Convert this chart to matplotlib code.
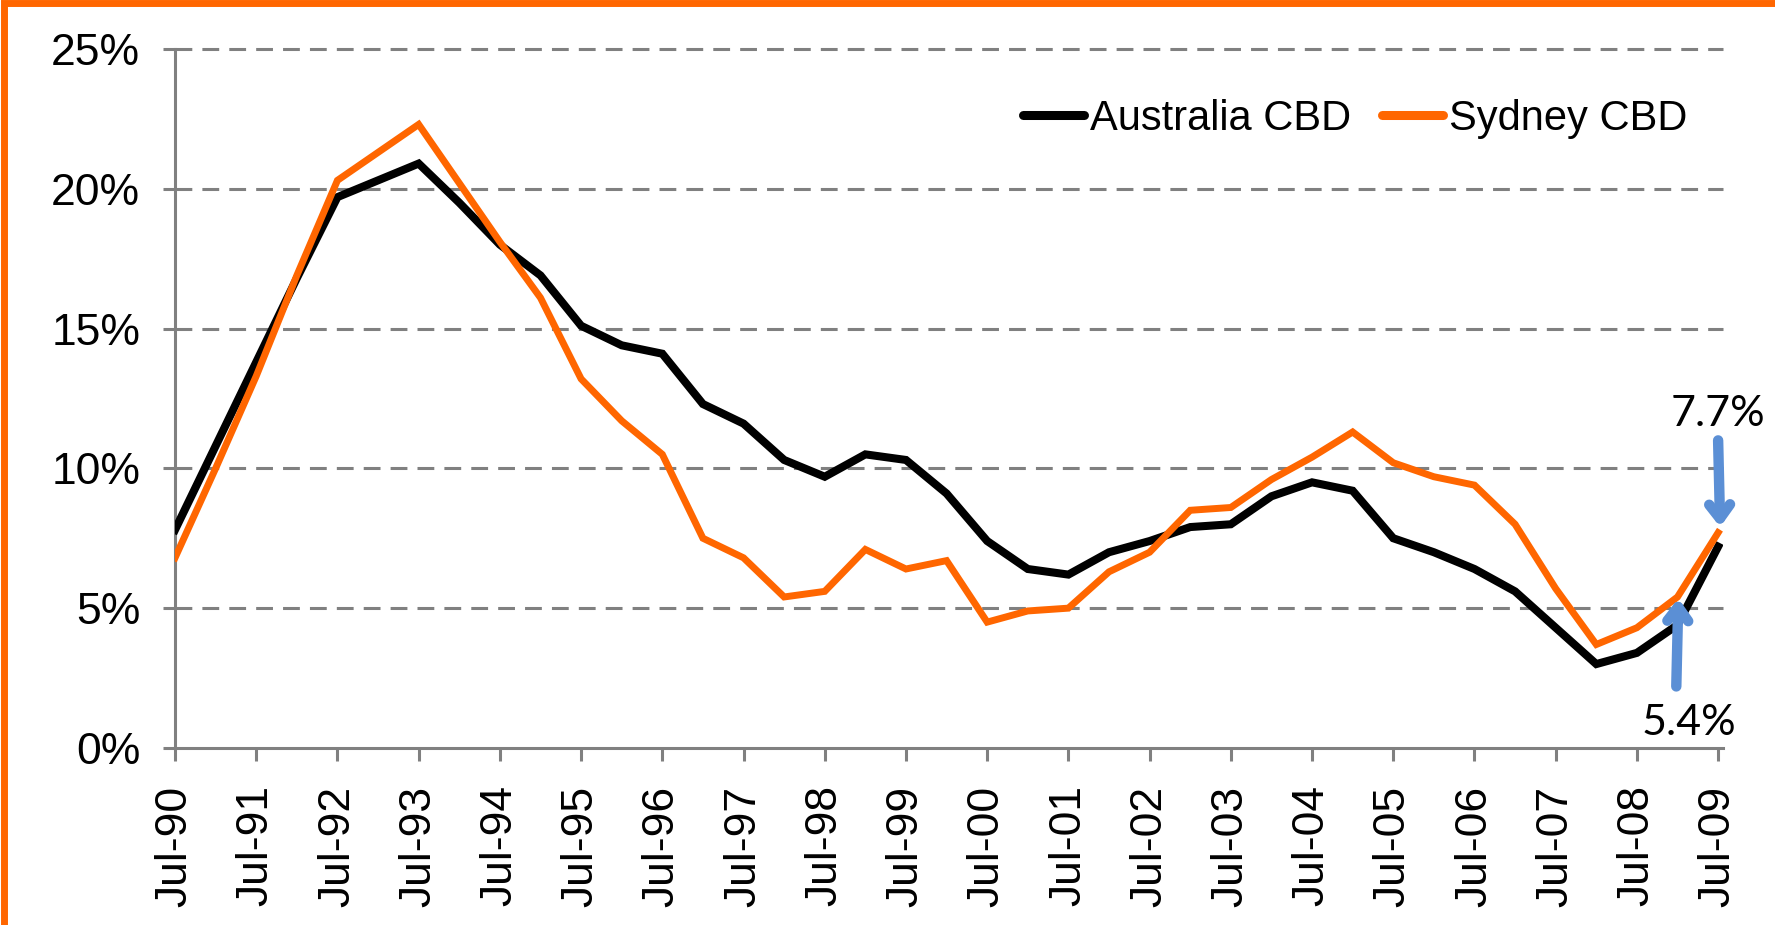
import matplotlib
matplotlib.use("Agg")
import matplotlib.pyplot as plt
from matplotlib.patches import Rectangle

# half-yearly vacancy rates, Jul-90 .. Jul-09 (%)
periods = ["Jul-90", "Jan-91", "Jul-91", "Jan-92", "Jul-92", "Jan-93", "Jul-93", "Jan-94",
           "Jul-94", "Jan-95", "Jul-95", "Jan-96", "Jul-96", "Jan-97", "Jul-97", "Jan-98",
           "Jul-98", "Jan-99", "Jul-99", "Jan-00", "Jul-00", "Jan-01", "Jul-01", "Jan-02",
           "Jul-02", "Jan-03", "Jul-03", "Jan-04", "Jul-04", "Jan-05", "Jul-05", "Jan-06",
           "Jul-06", "Jan-07", "Jul-07", "Jan-08", "Jul-08", "Jan-09", "Jul-09"]
australia_cbd = [7.8, 10.8, 13.8, 16.8, 19.7, 20.3, 20.9, 19.5, 18.0, 16.9, 15.1, 14.4, 14.1,
                 12.3, 11.6, 10.3, 9.7, 10.5, 10.3, 9.1, 7.4, 6.4, 6.2, 7.0, 7.4, 7.9, 8.0,
                 9.0, 9.5, 9.2, 7.5, 7.0, 6.4, 5.6, 4.3, 3.0, 3.4, 4.4, 7.2]
sydney_cbd = [6.8, 10.0, 13.3, 16.9, 20.3, 21.3, 22.3, 20.2, 18.1, 16.1, 13.2, 11.7, 10.5,
              7.5, 6.8, 5.4, 5.6, 7.1, 6.4, 6.7, 4.5, 4.9, 5.0, 6.3, 7.0, 8.5, 8.6,
              9.6, 10.4, 11.3, 10.2, 9.7, 9.4, 8.0, 5.7, 3.7, 4.3, 5.4, 7.7]
yticks = [0, 5, 10, 15, 20, 25]
callouts = ["7.7%", "5.4%"]

ORANGE = "#FF6600"
GREY = "#808080"
BLUE = "#5B8FD5"

fig = plt.figure(figsize=(17.75, 9.25), dpi=100)
ax = fig.add_axes([0.0986, 0.1914, 0.8721, 0.7557])

x = list(range(len(periods)))

# gridlines
for yv in yticks[1:]:
    ax.axhline(yv, color=GREY, lw=2.2, dashes=(5.5, 3.3), zorder=1, clip_on=False)

ax.plot(x, australia_cbd, color="black", lw=5.8, label="Australia CBD",
        solid_joinstyle="miter", zorder=3)
ax.plot(x, sydney_cbd, color=ORANGE, lw=5.0, label="Sydney CBD",
        solid_joinstyle="miter", zorder=4)

ax.set_xlim(0, 38.12)
ax.set_ylim(0, 25)
ax.set_yticks(yticks)
ax.set_yticklabels([f"{v}%" for v in yticks])
ax.set_xticks(x[::2])
ax.set_xticklabels(periods[::2], rotation=90)

for s in ["top", "right"]:
    ax.spines[s].set_visible(False)
for s in ["left", "bottom"]:
    ax.spines[s].set_color(GREY)
    ax.spines[s].set_linewidth(2.2)
ax.tick_params(axis="both", colors=GREY, width=2.2, length=9, labelcolor="black",
               labelsize=32, labelfontfamily="Liberation Sans")
ax.tick_params(axis="y", pad=16)
ax.tick_params(axis="x", pad=18)

leg = ax.legend(loc="center left", bbox_to_anchor=(0.548, 0.90), ncol=2, frameon=False,
                prop={"family": "Liberation Sans", "size": 30}, handlelength=1.45,
                handletextpad=0.15, columnspacing=0.75, borderpad=0, borderaxespad=0)
for h in leg.get_lines():
    h.set_linewidth(6.5)
    h.set_solid_capstyle("round")

# callouts
arrow = dict(arrowstyle="->,head_length=1.0,head_width=0.75", color=BLUE,
             lw=7.5, shrinkA=0, shrinkB=0)
ax.annotate("", xy=(38.05, 7.9), xytext=(38, 11.0), arrowprops=arrow,
            zorder=6, annotation_clip=False)
ax.text(38, 11.5, callouts[0], ha="center", va="baseline", fontsize=31,
        family="Lato", zorder=6, clip_on=False)
ax.annotate("", xy=(37.02, 5.35), xytext=(36.97, 2.2), arrowprops=arrow,
            zorder=6, annotation_clip=False)
ax.text(37.27, 0.46, callouts[1], ha="center", va="baseline", fontsize=31,
        family="Lato", zorder=6, clip_on=False)

# orange outer frame (only top and left edges fall inside the picture)
fig.add_artist(Rectangle((0.002, -0.1), 1.2, 1.097, transform=fig.transFigure,
                         fill=False, edgecolor=ORANGE, lw=5))

fig.savefig("out.png", dpi=100, facecolor="white")
